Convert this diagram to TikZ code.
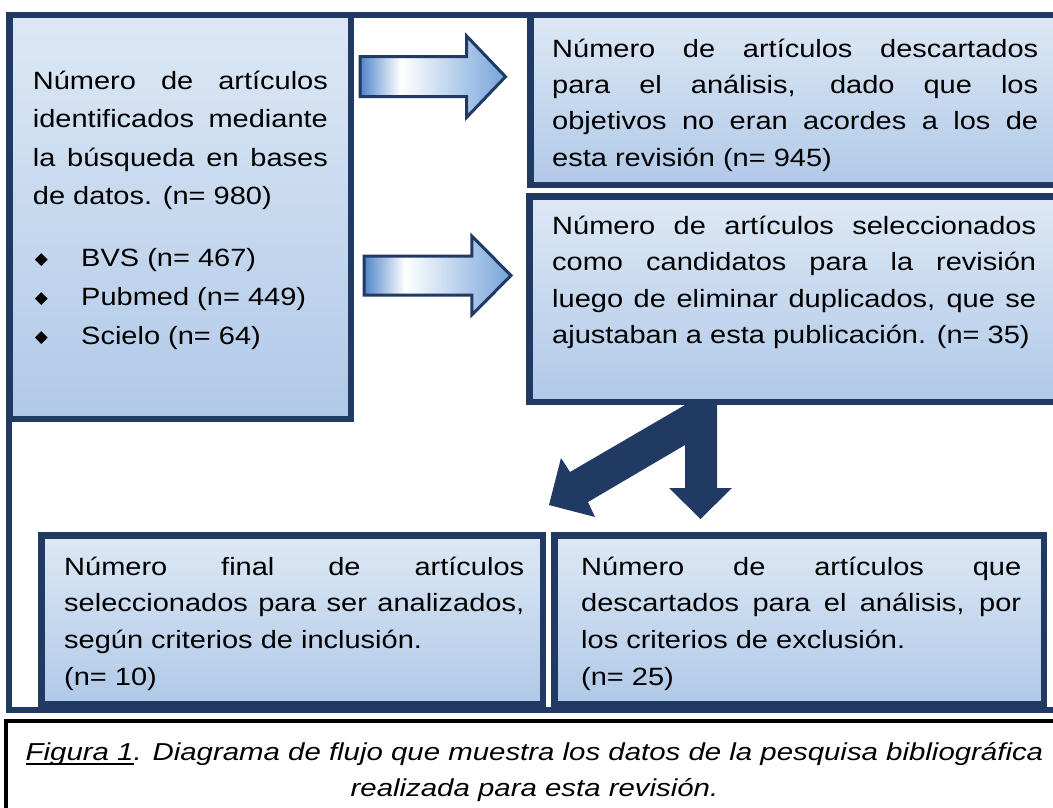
\documentclass[tikz,border=0pt]{standalone}
\usepackage{fontspec}
\setmainfont{Liberation Sans}[FakeStretch=1.16]
\newfontfamily\capfont{Liberation Sans}[FakeStretch=1.2]
\newfontfamily\dejavu{DejaVu Sans}
\definecolor{navy}{HTML}{213A64}
\definecolor{boxtop}{HTML}{DDE8F5}
\definecolor{boxbot}{HTML}{B0C9E8}
\definecolor{arrL}{HTML}{4F85C9}
\definecolor{arrR}{HTML}{76A4DA}
\pgfdeclarehorizontalshading{arrowshade}{100bp}{color(0bp)=(arrL); color(25bp)=(arrL); color(39bp)=(white); color(75bp)=(arrR); color(100bp)=(arrR)}
\newcommand\jline[2]{\hbox to #1{#2}}
\newcommand\rline[2]{\hbox to #1{#2\hfil}}
\newcommand\firststrut{\rule{0pt}{20pt}}
\newcommand\bul{\hbox to 48.3pt{\hskip 2pt\raisebox{1.5pt}{\dejavu\fontsize{17}{17}\selectfont ◆}\hfil}}
\newcommand\ulx[1]{\setbox0\hbox{#1}\rlap{\rule[-5pt]{\wd0}{1.8pt}}\box0}
\tikzset{
  box/.style={draw=navy, line width=6.5pt, top color=boxtop, bottom color=boxbot, anchor=north west, inner sep=0pt, outer sep=0pt},
  txt/.style={anchor=north west, inner sep=0pt, font=\fontsize{25}{36}\selectfont},
  blockarrow/.style={draw=navy, line width=3pt, shade, shading=arrowshade, line join=miter},
  frame/.style={draw=navy, line width=6pt},
}
\begin{document}
\begin{tikzpicture}[x=1pt, y=-1pt]
\useasboundingbox (0,0) rectangle (1053,808);
\clip (0,0) rectangle (1053,808);
\fill[white] (0,0) rectangle (1053,808);
% outer frame
\draw[frame] (9,15) rectangle (1067,710);
% solid navy arrows
\fill[navy] (693.6,400) -- (717,400) -- (717,488) -- (732,488) -- (700.5,519) -- (669,488) -- (685,488) -- (685,445) -- (588,502) -- (595,517) -- (549,505) -- (561,458) -- (570,472) -- cycle;
% boxes
\node[box, minimum width=341.5pt, minimum height=403.5pt] (b1) at (9.25,15.25) {};
\node[box, minimum width=536.5pt, minimum height=169.5pt] (b2) at (530.25,15.25) {};
\node[box, minimum width=537.5pt, minimum height=205.5pt] (b3) at (529.25,196.25) {};
\node[box, minimum width=501.5pt, minimum height=168.5pt] (b4) at (41.25,535.25) {};
\node[box, minimum width=489.5pt, minimum height=168.5pt] (b5) at (554.25,535.25) {};
% block arrows
\draw[blockarrow] (360,56.7) -- (466.6,56.7) -- (466.6,36) -- (505.5,76.7) -- (466.6,117.4) -- (466.6,96.7) -- (360,96.7) -- cycle;
\draw[blockarrow] (364,256) -- (471.8,256) -- (471.8,236) -- (511,275.5) -- (471.8,315) -- (471.8,295) -- (364,295) -- cycle;
% texts
\node[txt] (t1) at (32.7,69.3) {\vbox{\baselineskip=38.3pt
\jline{295pt}{\firststrut Número de artículos}
\jline{295pt}{identificados mediante}
\jline{295pt}{la búsqueda en bases}
\rline{295pt}{de datos. (n= 980)}
\vskip 22.7pt \baselineskip=39pt
\rline{295pt}{\bul BVS (n= 467)}
\rline{295pt}{\bul Pubmed (n= 449)}
\rline{295pt}{\bul Scielo (n= 64)}}};
\node[txt] (t2) at (552,37) {\vbox{\baselineskip=36.3pt
\jline{486pt}{\firststrut Número de artículos descartados}
\jline{486pt}{para el análisis, dado que los}
\jline{486pt}{objetivos no eran acordes a los de}
\rline{486pt}{esta revisión (n= 945)}}};
\node[txt] (t3) at (552,214.3) {\vbox{\baselineskip=36.3pt
\jline{484pt}{\firststrut Número de artículos seleccionados}
\jline{484pt}{como candidatos para la revisión}
\jline{484pt}{luego de eliminar duplicados, que se}
\rline{484pt}{ajustaban a esta publicación. (n= 35)}}};
\node[txt] (t4) at (64,555) {\vbox{\baselineskip=36.7pt
\jline{460pt}{\firststrut Número final de artículos}
\jline{460pt}{seleccionados para ser analizados,}
\rline{460pt}{según criterios de inclusión.}
\rline{460pt}{(n= 10)}}};
\node[txt] (t5) at (581,555) {\vbox{\baselineskip=36.7pt
\jline{440pt}{\firststrut Número de artículos que}
\jline{440pt}{descartados para el análisis, por}
\rline{440pt}{los criterios de exclusión.}
\rline{440pt}{(n= 25)}}};
% caption
\draw[black, line width=4pt] (6,721) rectangle (1070,830);
\node[anchor=north, inner sep=0pt, font=\capfont\itshape\fontsize{24.5}{36}\selectfont] (cap) at (534.5,740) {\vbox{\baselineskip=36pt
\hbox to 1040pt{\hfil\firststrut\ulx{Figura 1}. Diagrama de flujo que muestra los datos de la pesquisa bibliográfica\hfil}
\hbox to 1040pt{\hfil realizada para esta revisión.\hfil}}};
\end{tikzpicture}
\end{document}
